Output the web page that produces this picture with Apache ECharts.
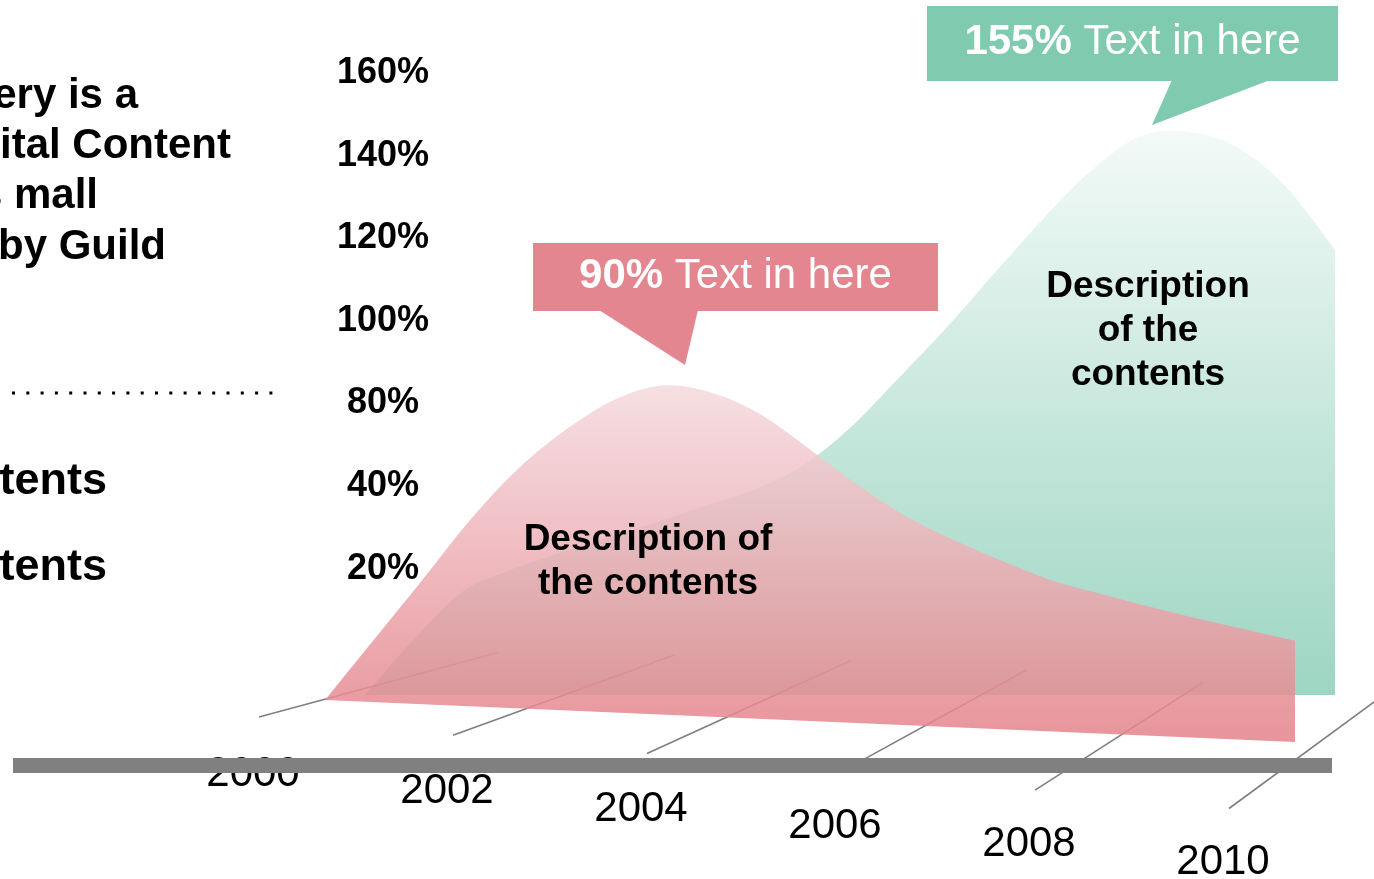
<!DOCTYPE html>
<html>
<head>
<meta charset="utf-8">
<script src="https://cdn.jsdelivr.net/npm/echarts@6/dist/echarts.min.js"></script>
<style>
  html, body { margin: 0; padding: 0; background: #fff; }
  #chart { width: 1374px; height: 879px; }
</style>
</head>
<body>
<div id="chart"></div>
<script>
// data
const years = [2000, 2000.5, 2001, 2001.5, 2002, 2002.5, 2003, 2003.5, 2004, 2004.5, 2005,
  2005.5, 2006, 2006.5, 2007, 2007.5, 2008, 2008.5, 2009, 2009.5, 2010]
const pinkValues = [0, 17.2, 34.4, 51.9, 66.8, 78.3, 87.1, 91.5, 89.9, 84.4, 75.4,
  66, 57.9, 51.8, 46.6, 41.9, 38.8, 35.8, 33.1, 30.6, 28.1]
const greenValues = [0, 15.3, 28.6, 34.7, 39.4, 43.6, 48, 52.5, 56.9, 63.5, 74.2,
  88, 102.2, 117.5, 132.5, 146, 155.3, 156.4, 152, 141, 123.6]
const tickYears = [2000, 2002, 2004, 2006, 2008, 2010]
const percentLabels = ['20%', '40%', '80%', '100%', '120%', '140%', '160%']

const FONT = '"Liberation Sans", Arial, Helvetica, sans-serif'
const chart = echarts.init(document.getElementById('chart'))

// catmull-rom sampling so the area edges come out smooth
function spline(pts, steps) {
  const out = []
  for (let i = 0; i < pts.length - 1; i++) {
    const p0 = pts[Math.max(i - 1, 0)]
    const p1 = pts[i]
    const p2 = pts[i + 1]
    const p3 = pts[Math.min(i + 2, pts.length - 1)]
    for (let t = 0; t < steps; t++) {
      const s = t / steps
      const s2 = s * s
      const s3 = s2 * s
      out.push([0, 1].map(k => 0.5 * (2 * p1[k] + (-p0[k] + p2[k]) * s +
        (2 * p0[k] - 5 * p1[k] + 4 * p2[k] - p3[k]) * s2 +
        (-p0[k] + 3 * p1[k] - 3 * p2[k] + p3[k]) * s3)))
    }
  }
  out.push(pts[pts.length - 1])
  return out
}

// depth = shift of the layer into the picture, skew = tilt of the floor
function areaItem(api, vals, depth, skew, fill, opacity) {
  const zero = api.coord([years[0], 0])
  const last = api.coord([years[years.length - 1], 0])
  const place = p => [p[0] + depth[0], p[1] + depth[1] + skew * (p[0] - zero[0])]
  const top = spline(years.map((yr, i) => place(api.coord([yr, vals[i]]))), 8)
  const base = [place(last), place(zero)]
  return {
    type: 'polygon',
    shape: { points: top.concat(base) },
    style: { fill: fill, opacity: opacity }
  }
}

const pinkFill = new echarts.graphic.LinearGradient(0, 0, 0, 1, [
  { offset: 0, color: '#f4dade' },
  { offset: 1, color: '#e4828a' }
])
const greenFill = new echarts.graphic.LinearGradient(0, 0, 0, 1, [
  { offset: 0, color: '#f3faf7' },
  { offset: 1, color: '#9dd5c3' }
])

function text(x, y, str, size, opts) {
  return {
    type: 'text', x: x, y: y, z: 20, silent: true,
    style: Object.assign({
      text: str, fill: '#000', fontSize: size, fontFamily: FONT, fontWeight: 'bold',
      align: 'left', textAlign: 'left', verticalAlign: 'middle', textVerticalAlign: 'middle'
    }, opts || {})
  }
}

function callout(box, tail, str, color) {
  return [
    { type: 'rect', z: 15, silent: true, shape: box, style: { fill: color } },
    { type: 'polygon', z: 15, silent: true, shape: { points: tail }, style: { fill: color } },
    text(box.x + box.width / 2, box.y + box.height / 2 - 1, str, 42, {
      fill: '#fff', fontWeight: 'normal', align: 'center', textAlign: 'center',
      rich: {
        b: { fontSize: 42, fontWeight: 'bold', fontFamily: FONT, fill: '#fff' },
        n: { fontSize: 42, fontWeight: 'normal', fontFamily: FONT, fill: '#fff' }
      }
    })
  ]
}

const right = { align: 'right', textAlign: 'right' }
const center = { align: 'center', textAlign: 'center', lineHeight: 44 }

chart.setOption({
  animation: false,
  grid: [
    { left: 325, right: 79, top: 124, bottom: 179 },
    { left: 440, width: 10, top: 32, height: 578 }
  ],
  xAxis: [
    { type: 'value', min: 2000, max: 2010, show: false },
    { type: 'value', gridIndex: 1, min: 0, max: 1, show: false }
  ],
  yAxis: [
    { type: 'value', min: 0, max: 160, show: false },
    {
      type: 'category', gridIndex: 1, data: percentLabels,
      axisLine: { show: false }, axisTick: { show: false }, splitLine: { show: false },
      axisLabel: {
        margin: 57, align: 'center', color: '#000', fontSize: 36,
        fontWeight: 'bold', fontFamily: FONT
      }
    }
  ],
  series: [
    {
      type: 'custom', name: 'back', z: 2, silent: true,
      data: years.map((yr, i) => [yr, greenValues[i]]),
      renderItem: (params, api) => params.dataIndex === 0
        ? areaItem(api, greenValues, [40, -5], 0, greenFill, 1) : null
    },
    {
      type: 'custom', name: 'floor', z: 3, silent: true,
      data: tickYears.map(yr => [yr, 0]),
      renderItem: (params, api) => {
        const yr = api.value(0)
        const p = api.coord([yr, 0])
        const i = params.dataIndex
        const x1 = p[0] - 66
        const y1 = p[1] + 17 + 18.3 * i
        const len = 240 - 18 * i
        const slope = 0.27 + 0.093 * i
        return {
          type: 'group',
          children: [
            {
              type: 'line',
              shape: { x1: x1, y1: y1, x2: x1 + len, y2: y1 - len * slope },
              style: { stroke: '#7f7f7f', lineWidth: 1.6 }
            },
            {
              type: 'text', x: p[0] - 72, y: p[1] + 74 + 17.6 * i,
              style: {
                text: String(yr), fill: '#000', fontSize: 42, fontFamily: FONT,
                align: 'center', textAlign: 'center', verticalAlign: 'middle', textVerticalAlign: 'middle'
              }
            }
          ]
        }
      }
    },
    {
      type: 'custom', name: 'front', z: 4, silent: true,
      data: years.map((yr, i) => [yr, pinkValues[i]]),
      renderItem: (params, api) => params.dataIndex === 0
        ? areaItem(api, pinkValues, [0, 0], 0.0433, pinkFill, 0.86) : null
    }
  ],
  graphic: [
    { type: 'rect', z: 10, silent: true, shape: { x: 13, y: 758, width: 1319, height: 15 }, style: { fill: '#808080' } },
    {
      type: 'line', z: 10, silent: true,
      shape: { x1: 12, y1: 393, x2: 274, y2: 393 },
      style: { stroke: '#000', lineWidth: 3, lineDash: [3, 11.3] }
    },
    text(138, 96, 'ery is a', 42, right),
    text(231, 146, 'ital Content', 42, right),
    text(98, 196, 's mall', 42, right),
    text(166, 247, 'by Guild', 42, right),
    text(107, 482, 'tents', 45, right),
    text(107, 568, 'tents', 45, right),
    text(648, 562, 'Description of\nthe contents', 37, center),
    text(1148, 331, 'Description\nof the\ncontents', 37, center)
  ].concat(
    callout({ x: 533, y: 243, width: 405, height: 68 }, [[599, 310], [698, 310], [685, 365]],
      '{b|90%}{n| Text in here}', '#e3868f'),
    callout({ x: 927, y: 6, width: 411, height: 75 }, [[1172, 80], [1270, 80], [1152, 125]],
      '{b|155%}{n| Text in here}', '#80cab0')
  )
})
</script>
</body>
</html>
